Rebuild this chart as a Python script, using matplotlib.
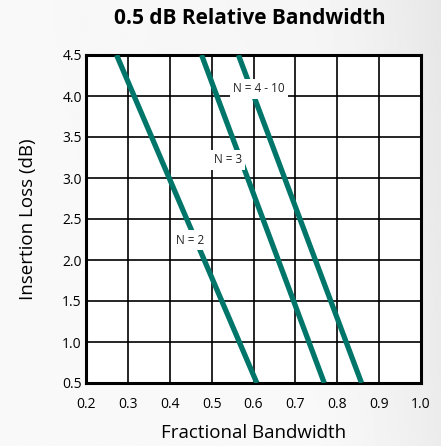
import numpy as np
import matplotlib.pyplot as plt

# line end points (fractional bandwidth, insertion loss dB)
n2_bw = [0.273, 0.608]
n2_il = [4.5, 0.5]
n3_bw = [0.476, 0.769]
n3_il = [4.5, 0.5]
n410_bw = [0.564, 0.858]
n410_il = [4.5, 0.5]

labels = ["N = 2", "N = 3", "N = 4 - 10"]
label_bw = [0.448, 0.539, 0.613]
label_il = [2.24, 3.22, 4.09]

x_ticks = [0.2, 0.3, 0.4, 0.5, 0.6, 0.7, 0.8, 0.9, 1.0]
y_ticks = [0.5, 1.0, 1.5, 2.0, 2.5, 3.0, 3.5, 4.0, 4.5]

teal = '#00766a'
font = 'Open Sans'

fig = plt.figure(figsize=(4.41, 4.46), dpi=100)

# soft gray background gradient
bg = fig.add_axes([0, 0, 1, 1], zorder=-10)
xx, yy = np.meshgrid(np.linspace(0, 1, 200), np.linspace(0, 1, 200))
shade = 0.975 - 0.05 * np.clip((xx - 0.7) / 0.3, 0, 1) ** 1.5 - 0.02 * (1 - yy) * xx
bg.imshow(shade, cmap='gray', vmin=0, vmax=1, extent=[0, 1, 0, 1], aspect='auto')
bg.axis('off')

ax = fig.add_axes([86 / 441, 1 - 383 / 446, 335 / 441, 328 / 446])
ax.set_facecolor('white')

for bw, il in [(n2_bw, n2_il), (n3_bw, n3_il), (n410_bw, n410_il)]:
    ax.plot(bw, il, color=teal, lw=3.8, solid_capstyle='butt', zorder=3)

for t, x, y in zip(labels, label_bw, label_il):
    ax.text(x, y, t, ha='center', va='center', fontsize=8.5, family=font,
            color='#222222', zorder=4,
            bbox=dict(facecolor='white', edgecolor='none', pad=2.5))

ax.set_xlim(0.2, 1.0)
ax.set_ylim(0.5, 4.5)
ax.set_xticks(x_ticks)
ax.set_yticks(y_ticks)
ax.set_xticklabels([f'{v:.1f}' for v in x_ticks], family=font, fontsize=10)
ax.set_yticklabels([f'{v:.1f}' for v in y_ticks], family=font, fontsize=10)
ax.tick_params(axis='x', length=0, pad=10)
ax.tick_params(axis='y', length=0, pad=3)
ax.grid(color='black', lw=1.2, zorder=1)
ax.set_axisbelow(True)
for s in ax.spines.values():
    s.set_linewidth(2.2)

ax.set_xlabel('Fractional Bandwidth', family=font, fontsize=13.5, labelpad=9)
ax.set_ylabel('Insertion Loss (dB)', family=font, fontsize=13.5, labelpad=18)
fig.text(250 / 441, 1 - 18 / 446, '0.5 dB Relative Bandwidth', ha='center', va='center',
         family=font, fontsize=15, fontweight='bold')

fig.savefig('out.png', dpi=100)
